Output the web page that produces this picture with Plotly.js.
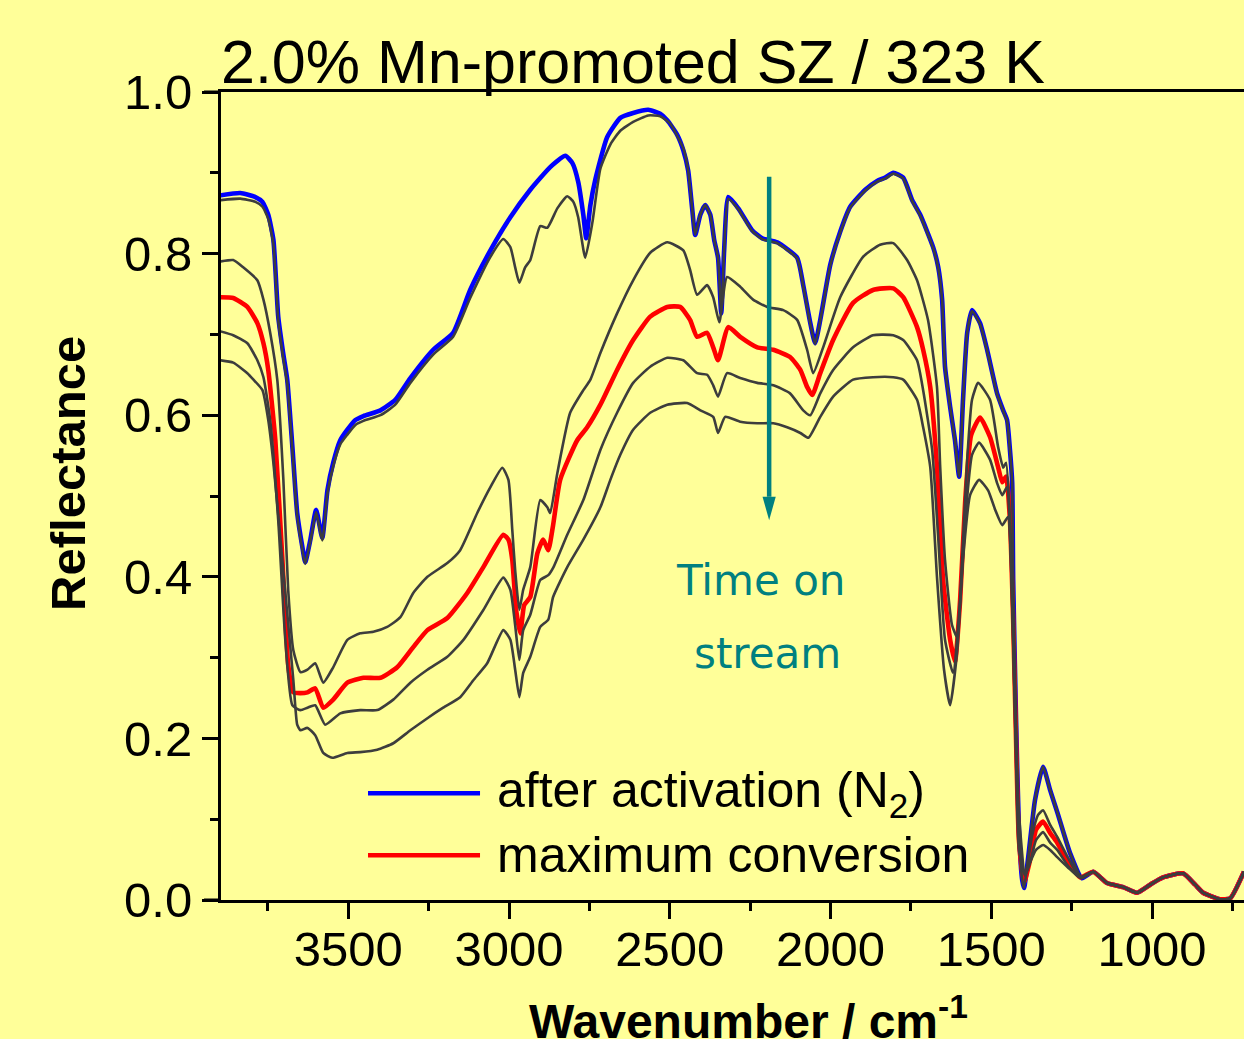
<!DOCTYPE html>
<html>
<head>
<meta charset="utf-8">
<script src="https://cdn.plot.ly/plotly-3.0.1.min.js"></script>
<style>
  html, body { margin: 0; padding: 0; background: #FFFF99; overflow: hidden; }
</style>
</head>
<body>
<div id="chart" style="width:1244px;height:1039px"></div>
<script>
// DRIFTS spectra of 2.0% Mn-promoted sulfated zirconia at 323 K
// wavenumber (cm-1) / reflectance pairs, one pair of arrays per spectrum

// spectrum recorded after activation in N2
const wnActivated = [3900,3836,3789,3767,3749,3733,3718,3702,3690,3674,3659,3643,3634,3618,3600,3581,3565,3547,3525,3503,3478,3453,3400,3354,3307,3236,3174,3121,3058,2996,2934,2872,2825,2803,2785,2769,2760,2747,2732,2695,2654,2614,2567,2530,2508,2477,2458,2443,2430,2421,2405,2390,2374,2362,2350,2340,2331,2318,2287,2244,2213,2166,2104,2085,2063,2048,2032,2001,1970,1939,1892,1855,1830,1805,1774,1746,1721,1681,1665,1653,1644,1628,1613,1600,1588,1575,1560,1535,1513,1482,1463,1451,1442,1435,1432,1423,1414,1404,1398,1386,1364,1339,1317,1295,1255,1218];
const rActivated = [0.872,0.875,0.870,0.864,0.848,0.817,0.722,0.675,0.644,0.561,0.479,0.437,0.418,0.446,0.483,0.448,0.507,0.541,0.569,0.582,0.594,0.599,0.606,0.619,0.646,0.681,0.702,0.755,0.804,0.845,0.879,0.907,0.921,0.912,0.889,0.848,0.819,0.860,0.891,0.944,0.968,0.974,0.978,0.973,0.965,0.947,0.928,0.903,0.854,0.823,0.848,0.860,0.848,0.817,0.795,0.726,0.804,0.870,0.856,0.829,0.819,0.814,0.795,0.761,0.714,0.689,0.718,0.786,0.827,0.858,0.879,0.890,0.894,0.900,0.894,0.866,0.848,0.808,0.783,0.743,0.660,0.610,0.569,0.524,0.619,0.702,0.730,0.714,0.681,0.627,0.606,0.594,0.557,0.516,0.396,0.223,0.087,0.025,0.015,0.050,0.124,0.165,0.136,0.109,0.058,0.027];

// first spectrum on stream
const wnStream1 = [3900,3836,3789,3767,3749,3733,3718,3702,3690,3674,3659,3643,3634,3618,3600,3581,3565,3547,3525,3503,3478,3453,3400,3354,3307,3236,3174,3121,3058,3018,2996,2981,2968,2950,2934,2903,2881,2850,2819,2800,2785,2763,2741,2716,2685,2654,2614,2567,2530,2499,2458,2443,2430,2421,2405,2390,2374,2362,2350,2340,2331,2318,2287,2244,2213,2166,2104,2085,2063,2048,2032,2001,1970,1939,1892,1855,1830,1805,1774,1746,1721,1681,1665,1653,1644,1628,1613,1600,1588,1575,1560,1535,1513,1482,1463,1451,1442,1435,1432,1423,1414,1404,1398,1386,1364,1339,1317,1295,1255,1218];
const rStream1 = [0.866,0.868,0.864,0.858,0.843,0.812,0.718,0.670,0.640,0.557,0.476,0.434,0.416,0.444,0.480,0.445,0.503,0.537,0.564,0.576,0.588,0.593,0.600,0.613,0.640,0.675,0.697,0.745,0.796,0.818,0.808,0.783,0.764,0.783,0.792,0.834,0.832,0.856,0.871,0.864,0.845,0.795,0.838,0.905,0.935,0.952,0.963,0.971,0.970,0.961,0.930,0.903,0.854,0.823,0.848,0.860,0.848,0.817,0.795,0.726,0.804,0.868,0.855,0.828,0.818,0.813,0.794,0.760,0.713,0.688,0.717,0.785,0.826,0.857,0.878,0.889,0.893,0.899,0.893,0.865,0.847,0.807,0.782,0.742,0.660,0.610,0.569,0.524,0.619,0.702,0.729,0.713,0.680,0.626,0.605,0.593,0.556,0.516,0.396,0.223,0.087,0.025,0.015,0.050,0.124,0.165,0.136,0.109,0.058,0.027];

// second spectrum on stream
const wnStream2 = [3900,3858,3827,3783,3764,3743,3721,3702,3687,3671,3649,3627,3603,3578,3547,3503,3463,3422,3379,3338,3298,3254,3192,3152,3099,3058,3021,3002,2990,2981,2968,2956,2934,2903,2881,2872,2850,2810,2769,2747,2716,2664,2614,2561,2508,2458,2437,2415,2384,2365,2346,2322,2281,2241,2197,2147,2104,2073,2054,2023,1970,1899,1846,1805,1762,1731,1697,1669,1659,1644,1622,1606,1591,1575,1560,1541,1504,1479,1463,1454,1442,1432,1423,1414,1401,1392,1373,1355,1339,1317,1295,1261,1224];
const rStream2 = [0.790,0.792,0.783,0.767,0.743,0.702,0.644,0.520,0.384,0.309,0.282,0.285,0.293,0.269,0.288,0.322,0.330,0.332,0.338,0.350,0.380,0.400,0.417,0.433,0.479,0.511,0.535,0.520,0.458,0.408,0.359,0.384,0.412,0.495,0.486,0.479,0.528,0.603,0.631,0.644,0.677,0.726,0.767,0.801,0.814,0.804,0.780,0.749,0.761,0.746,0.715,0.771,0.759,0.743,0.734,0.730,0.718,0.681,0.652,0.684,0.746,0.796,0.811,0.813,0.792,0.767,0.718,0.635,0.536,0.421,0.340,0.325,0.421,0.545,0.619,0.640,0.619,0.561,0.535,0.541,0.470,0.347,0.198,0.087,0.035,0.037,0.080,0.105,0.111,0.093,0.078,0.052,0.028];

// spectrum at maximum conversion
const wnMaxConv = [3900,3858,3814,3783,3764,3749,3727,3705,3687,3671,3649,3627,3603,3578,3547,3503,3453,3400,3348,3298,3254,3192,3130,3080,3018,3002,2990,2978,2965,2953,2934,2912,2894,2878,2863,2841,2788,2757,2716,2664,2614,2561,2508,2468,2437,2415,2384,2365,2350,2318,2281,2228,2178,2126,2094,2073,2057,2032,1992,1930,1868,1805,1774,1731,1712,1690,1669,1650,1628,1613,1597,1581,1563,1535,1504,1479,1466,1454,1442,1432,1423,1414,1398,1379,1361,1339,1317,1295,1261,1224];
const rMaxConv = [0.746,0.745,0.734,0.714,0.689,0.656,0.569,0.421,0.291,0.257,0.256,0.257,0.262,0.238,0.248,0.269,0.275,0.275,0.288,0.313,0.334,0.349,0.380,0.412,0.452,0.446,0.421,0.359,0.330,0.365,0.375,0.429,0.446,0.433,0.464,0.520,0.569,0.585,0.613,0.656,0.693,0.722,0.734,0.734,0.718,0.697,0.702,0.684,0.668,0.709,0.697,0.684,0.681,0.672,0.656,0.635,0.625,0.652,0.693,0.739,0.755,0.757,0.746,0.709,0.681,0.635,0.536,0.396,0.322,0.295,0.371,0.495,0.575,0.597,0.573,0.536,0.517,0.524,0.470,0.347,0.198,0.074,0.022,0.050,0.087,0.097,0.083,0.071,0.047,0.028];

// fourth spectrum on stream
const wnStream4 = [3900,3858,3814,3783,3764,3743,3718,3696,3674,3649,3627,3603,3572,3525,3463,3410,3360,3307,3254,3192,3142,3080,3018,2996,2981,2968,2956,2934,2903,2878,2863,2819,2769,2716,2664,2614,2561,2508,2458,2415,2384,2365,2350,2322,2281,2228,2178,2126,2085,2063,2032,1992,1930,1868,1805,1774,1731,1712,1684,1666,1644,1619,1597,1581,1560,1538,1504,1482,1466,1451,1442,1432,1423,1414,1395,1379,1361,1339,1317,1295,1261,1224];
const rStream4 = [0.704,0.699,0.689,0.668,0.647,0.594,0.470,0.322,0.241,0.235,0.238,0.241,0.217,0.231,0.235,0.235,0.248,0.269,0.285,0.301,0.322,0.359,0.399,0.384,0.340,0.297,0.334,0.353,0.396,0.402,0.411,0.452,0.495,0.557,0.603,0.640,0.660,0.671,0.668,0.652,0.650,0.637,0.623,0.652,0.646,0.640,0.637,0.627,0.606,0.600,0.627,0.656,0.684,0.699,0.699,0.693,0.668,0.631,0.557,0.454,0.322,0.281,0.371,0.470,0.551,0.566,0.545,0.516,0.501,0.511,0.458,0.322,0.173,0.062,0.030,0.047,0.074,0.084,0.071,0.062,0.042,0.028];

// fifth spectrum on stream
const wnStream5 = [3900,3858,3814,3795,3767,3749,3733,3711,3690,3671,3659,3649,3627,3603,3578,3550,3503,3463,3410,3360,3307,3254,3205,3152,3111,3068,3018,2996,2981,2968,2956,2934,2903,2878,2863,2819,2769,2716,2685,2654,2614,2561,2508,2446,2405,2365,2350,2328,2281,2228,2178,2135,2094,2069,2032,1992,1930,1868,1805,1774,1731,1712,1690,1669,1647,1628,1606,1588,1566,1538,1510,1488,1466,1448,1439,1429,1417,1395,1379,1361,1339,1317,1295,1261,1224];
const rStream5 = [0.668,0.665,0.652,0.644,0.631,0.594,0.541,0.446,0.355,0.272,0.217,0.210,0.213,0.204,0.182,0.176,0.182,0.183,0.186,0.194,0.210,0.225,0.238,0.251,0.272,0.293,0.334,0.322,0.285,0.251,0.281,0.301,0.338,0.347,0.375,0.412,0.446,0.486,0.520,0.551,0.582,0.603,0.613,0.615,0.606,0.598,0.578,0.598,0.592,0.590,0.590,0.585,0.578,0.572,0.598,0.623,0.644,0.647,0.647,0.644,0.619,0.585,0.536,0.400,0.285,0.241,0.309,0.421,0.501,0.520,0.507,0.483,0.464,0.474,0.421,0.272,0.124,0.031,0.047,0.062,0.068,0.062,0.053,0.040,0.028];

// low-wavenumber region where all spectra coincide
const wnTail = [1183,1140,1090,1047,1006,966,904,866,841,789,757,714];
const rTail = [0.035,0.021,0.016,0.009,0.019,0.028,0.033,0.019,0.009,0.001,0.002,0.035];

const legendNames = ['after activation (N<sub>2</sub>)', 'maximum conversion'];

const FONT = 'Liberation Sans, Arial, Helvetica, sans-serif';
const BLUE = '#0000FF', RED = '#FF0000', GREY = '#3d3d3d', TEAL = '#008080';

function spectrum(wn, r, color, width) {
  return {
    type: 'scatter', mode: 'lines',
    x: wn.concat(wnTail), y: r.concat(rTail),
    line: { color: color, width: width, shape: 'spline', smoothing: 0.5 },
    hoverinfo: 'skip', showlegend: false
  };
}

const traces = [
  spectrum(wnActivated, rActivated, BLUE, 4.6),
  spectrum(wnMaxConv, rMaxConv, RED, 4.6),
  spectrum(wnStream1, rStream1, GREY, 2.6),
  spectrum(wnStream2, rStream2, GREY, 2.6),
  spectrum(wnStream4, rStream4, GREY, 2.6),
  spectrum(wnStream5, rStream5, GREY, 2.6)
];

// time-on-stream arrow, in data units
const arrowX = 2191, arrowTop = 0.895, arrowBase = 0.499, arrowTip = 0.470, arrowHalf = 20.5;

const legendY = [0.1321, 0.0553];
const legendX0 = 0.1437, legendX1 = 0.2532, legendTextX = 0.2678;

const layout = {
  width: 1244, height: 1039,
  paper_bgcolor: '#FFFF99', plot_bgcolor: '#FFFF99',
  margin: { l: 221, r: 0, t: 92, b: 139 },
  showlegend: false,
  title: {
    text: '2.0% Mn-promoted SZ / 323 K',
    font: { family: FONT, size: 61, color: '#000' },
    xref: 'paper', x: 0, xanchor: 'left',
    yref: 'container', y: 0.9403, yanchor: 'middle',
    pad: { l: 0, r: 0, t: 0, b: 0 }
  },
  xaxis: {
    range: [3896, 714], autorange: false,
    tick0: 0, dtick: 500,
    ticks: 'outside', ticklen: 16, tickwidth: 3, tickcolor: '#000',
    minor: { tick0: 0, dtick: 250, ticks: 'outside', ticklen: 8, tickwidth: 3, tickcolor: '#000', showgrid: false },
    showline: true, linewidth: 3, linecolor: '#000', mirror: true,
    showgrid: false, zeroline: false,
    tickfont: { family: FONT, size: 49, color: '#000' },
    ticklabelstandoff: -12
  },
  xaxis2: {
    overlaying: 'x', side: 'top', anchor: 'y',
    range: [3896, 714], autorange: false,
    tick0: 0, dtick: 250,
    ticks: 'inside', ticklen: 4, tickwidth: 2, tickcolor: '#000',
    showticklabels: false, showline: false, showgrid: false, zeroline: false
  },
  yaxis: {
    range: [0, 1], autorange: false,
    tick0: 0, dtick: 0.2, tickformat: '.1f',
    ticks: 'outside', ticklen: 16, tickwidth: 3, tickcolor: '#000',
    minor: { dtick: 0.1, ticks: 'outside', ticklen: 8, tickwidth: 3, tickcolor: '#000', showgrid: false },
    showline: true, linewidth: 3, linecolor: '#000',
    showgrid: false, zeroline: false,
    tickfont: { family: FONT, size: 49, color: '#000' }
  },
  shapes: [
    // horizontal frame lines run a little past the left axis
    { type: 'line', xref: 'paper', yref: 'paper', x0: -0.0166, x1: 0, y0: 0, y1: 0, line: { color: '#000', width: 3 } },
    { type: 'line', xref: 'paper', yref: 'paper', x0: -0.0166, x1: 0, y0: 1, y1: 1, line: { color: '#000', width: 3 } },
    // arrow shaft and head
    { type: 'line', xref: 'x', yref: 'y', x0: arrowX, x1: arrowX, y0: arrowTop, y1: arrowBase, line: { color: TEAL, width: 4.5 } },
    { type: 'path', xref: 'x', yref: 'y',
      path: 'M' + (arrowX + arrowHalf) + ',' + arrowBase + ' L' + (arrowX - arrowHalf) + ',' + arrowBase + ' L' + arrowX + ',' + arrowTip + ' Z',
      fillcolor: TEAL, line: { width: 0 } },
    // legend samples
    { type: 'line', xref: 'paper', yref: 'paper', x0: legendX0, x1: legendX1, y0: legendY[0], y1: legendY[0], line: { color: BLUE, width: 4.5 } },
    { type: 'line', xref: 'paper', yref: 'paper', x0: legendX0, x1: legendX1, y0: legendY[1], y1: legendY[1], line: { color: RED, width: 4.5 } }
  ],
  annotations: [
    // axis titles
    { xref: 'paper', yref: 'paper', x: 0.5161, y: -0.146, xanchor: 'center', yanchor: 'middle', showarrow: false,
      text: '<b>Wavenumber / cm<sup>-1</sup></b>', font: { family: FONT, size: 48, color: '#000' } },
    { xref: 'paper', yref: 'paper', x: -0.1496, y: 0.5285, xanchor: 'center', yanchor: 'middle', showarrow: false, textangle: -90,
      text: '<b>Reflectance</b>', font: { family: FONT, size: 49, color: '#000' } },
    // legend entries
    { xref: 'paper', yref: 'paper', x: legendTextX, y: legendY[0], xanchor: 'left', yanchor: 'middle', showarrow: false,
      text: legendNames[0], font: { family: FONT, size: 50, color: '#000' } },
    { xref: 'paper', yref: 'paper', x: legendTextX, y: legendY[1], xanchor: 'left', yanchor: 'middle', showarrow: false,
      text: legendNames[1], font: { family: FONT, size: 50, color: '#000' } },
    // time-on-stream label
    { xref: 'x', yref: 'y', x: 2219, y: 0.3954, xanchor: 'center', yanchor: 'middle', showarrow: false,
      text: 'Time on', font: { family: 'Comic Sans MS, DejaVu Sans, sans-serif', size: 42, color: TEAL } },
    { xref: 'x', yref: 'y', x: 2196, y: 0.3051, xanchor: 'center', yanchor: 'middle', showarrow: false,
      text: 'stream', font: { family: 'Comic Sans MS, DejaVu Sans, sans-serif', size: 42, color: TEAL } }
  ]
};

Plotly.newPlot('chart', traces, layout, { displayModeBar: false, staticPlot: true });
</script>
</body>
</html>
